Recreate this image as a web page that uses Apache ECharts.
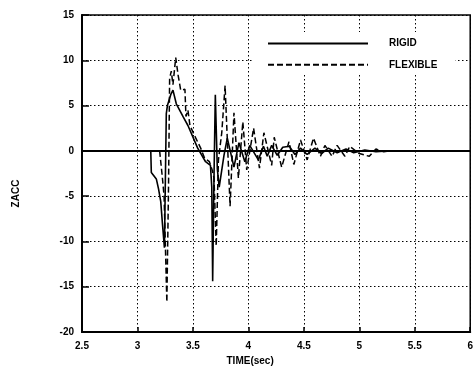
<!DOCTYPE html>
<html>
<head>
<meta charset="utf-8">
<script src="https://cdn.jsdelivr.net/npm/echarts@6/dist/echarts.min.js"></script>
<style>
html,body{margin:0;padding:0;background:#fff;}
#c{width:476px;height:372px;}
</style>
</head>
<body>
<div id="c"></div>
<script>
// Series names
var seriesNames = ['RIGID', 'FLEXIBLE'];
// Axis ticks
var xTicks = [2.5, 3, 3.5, 4, 4.5, 5, 5.5, 6];
var yTicks = [-20, -15, -10, -5, 0, 5, 10, 15];

// RIGID (solid)
var rigidTime = [2.5, 3.12, 3.125, 3.17, 3.19, 3.21, 3.225, 3.243, 3.26, 3.27, 3.30, 3.32, 3.35, 3.41, 3.455, 3.543, 3.614, 3.658, 3.67, 3.678, 3.69, 3.702, 3.72, 3.737, 3.78, 3.81, 3.87, 3.915, 3.968, 4.012, 4.09, 4.136, 4.17, 4.21, 4.26, 4.31, 4.37, 4.42, 4.47, 4.53, 4.60, 4.66, 4.72, 4.80, 4.88, 4.95, 5.05, 5.15, 5.25, 6.0];
var rigidZacc = [0, 0, -2.4, -3.1, -4.2, -5.6, -8, -10.7, 4.1, 5, 6.2, 6.7, 5.2, 3.8, 2.8, 0.3, -1.2, -1.6, -4.0, -14.4, -3, 6.2, -2, -4, -0.5, 1.4, -1.8, 0.9, -1.2, 0.6, -1.0, 0.5, -0.6, 0.6, -0.5, 0.4, 0.5, -0.4, 0.3, -0.4, 0.3, -0.3, 0.3, -0.2, 0.2, -0.2, 0.1, -0.1, 0, 0];

// FLEXIBLE (dashed)
var flexTime = [3.20, 3.225, 3.24, 3.255, 3.265, 3.28, 3.29, 3.305, 3.32, 3.345, 3.366, 3.39, 3.428, 3.437, 3.455, 3.473, 3.526, 3.57, 3.605, 3.649, 3.676, 3.69, 3.71, 3.73, 3.76, 3.79, 3.835, 3.87, 3.91, 3.95, 3.985, 4.047, 4.10, 4.14, 4.21, 4.233, 4.30, 4.366, 4.41, 4.47, 4.53, 4.587, 4.65, 4.69, 4.755, 4.80, 4.87, 4.914, 5.0, 5.09, 5.15, 5.22, 5.27];
var flexZacc = [0, -3, -5, -12, -16.7, -4, 8, 8.8, 7.3, 10.3, 8.4, 6.7, 6.8, 3.8, 4.5, 2.8, 1.4, 0.3, -0.8, -1.2, -2.2, -3, -10.5, -1, 2, 7.2, -6.1, 4.2, -3, 3.2, -2.1, 2.5, -1.9, 2.0, -1.6, 1.5, -1.8, 1.0, -1.5, 1.2, -1.0, 1.4, -0.6, 0.6, -0.6, 0.6, -0.6, 0.5, -0.3, -0.6, 0.2, -0.1, 0];

function pairs(t, v) { return t.map(function (x, i) { return [x, v[i]]; }); }

var chart = echarts.init(document.getElementById('c'), null, {renderer: 'canvas'});
var font = 'Liberation Sans, Arial, sans-serif';
var dotted = {color: '#000', width: 1, type: [1.5, 2.5]};
chart.setOption({
  animation: false,
  backgroundColor: '#fff',
  textStyle: {fontFamily: font},
  grid: {left: 82, right: 2, top: 15, bottom: 40, show: true, borderColor: '#000', borderWidth: 1.5, backgroundColor: 'transparent'},
  legend: {
    orient: 'vertical',
    left: 253, top: 32,
    padding: [6, 18, 3, 14],
    itemWidth: 100, itemHeight: 14, itemGap: 10,
    backgroundColor: '#fff',
    data: seriesNames,
    itemStyle: {opacity: 0, color: 'transparent', borderWidth: 0},
    textStyle: {fontFamily: font, fontWeight: 'bold', fontSize: 10, color: '#000', padding: [0, 0, 0, 16]}
  },
  xAxis: {
    type: 'value',
    min: xTicks[0], max: xTicks[xTicks.length - 1], interval: xTicks[1] - xTicks[0],
    name: 'TIME(sec)', nameLocation: 'middle', nameGap: 22,
    nameTextStyle: {fontFamily: font, fontWeight: 'bold', fontSize: 10, color: '#000', padding: [0, 52, 0, 0]},
    axisLine: {onZero: false, lineStyle: {color: '#000', width: 2}},
    axisTick: {inside: true, length: 5, lineStyle: {color: '#000', width: 1.5}},
    axisLabel: {fontFamily: font, fontWeight: 'bold', fontSize: 10, color: '#000', margin: 9},
    splitLine: {show: true, lineStyle: dotted}
  },
  yAxis: {
    type: 'value',
    min: yTicks[0], max: yTicks[yTicks.length - 1], interval: yTicks[1] - yTicks[0],
    name: 'ZACC', nameLocation: 'middle', nameGap: 61, nameRotate: 90,
    nameTextStyle: {fontFamily: font, fontWeight: 'bold', fontSize: 10, color: '#000', padding: [0, 40, 0, 0]},
    axisLine: {onZero: false, lineStyle: {color: '#000', width: 2}},
    axisTick: {inside: true, length: 7, lineStyle: {color: '#000', width: 1.5}},
    axisLabel: {fontFamily: font, fontWeight: 'bold', fontSize: 10, color: '#000', margin: 8},
    splitLine: {show: true, lineStyle: dotted}
  },
  series: [
    {
      name: seriesNames[0], type: 'line', symbol: 'none', data: pairs(rigidTime, rigidZacc),
      lineStyle: {color: '#000', width: 1.6},
      itemStyle: {color: '#000'},
      markLine: {silent: true, symbol: 'none', label: {show: false},
        lineStyle: {color: '#000', width: 2, type: 'solid'}, data: [{yAxis: 0}]}
    },
    {
      name: seriesNames[1], type: 'line', symbol: 'none', data: pairs(flexTime, flexZacc),
      lineStyle: {color: '#000', width: 1.5, type: [6, 3]},
      itemStyle: {color: '#000'}
    }
  ]
});
</script>
</body>
</html>
